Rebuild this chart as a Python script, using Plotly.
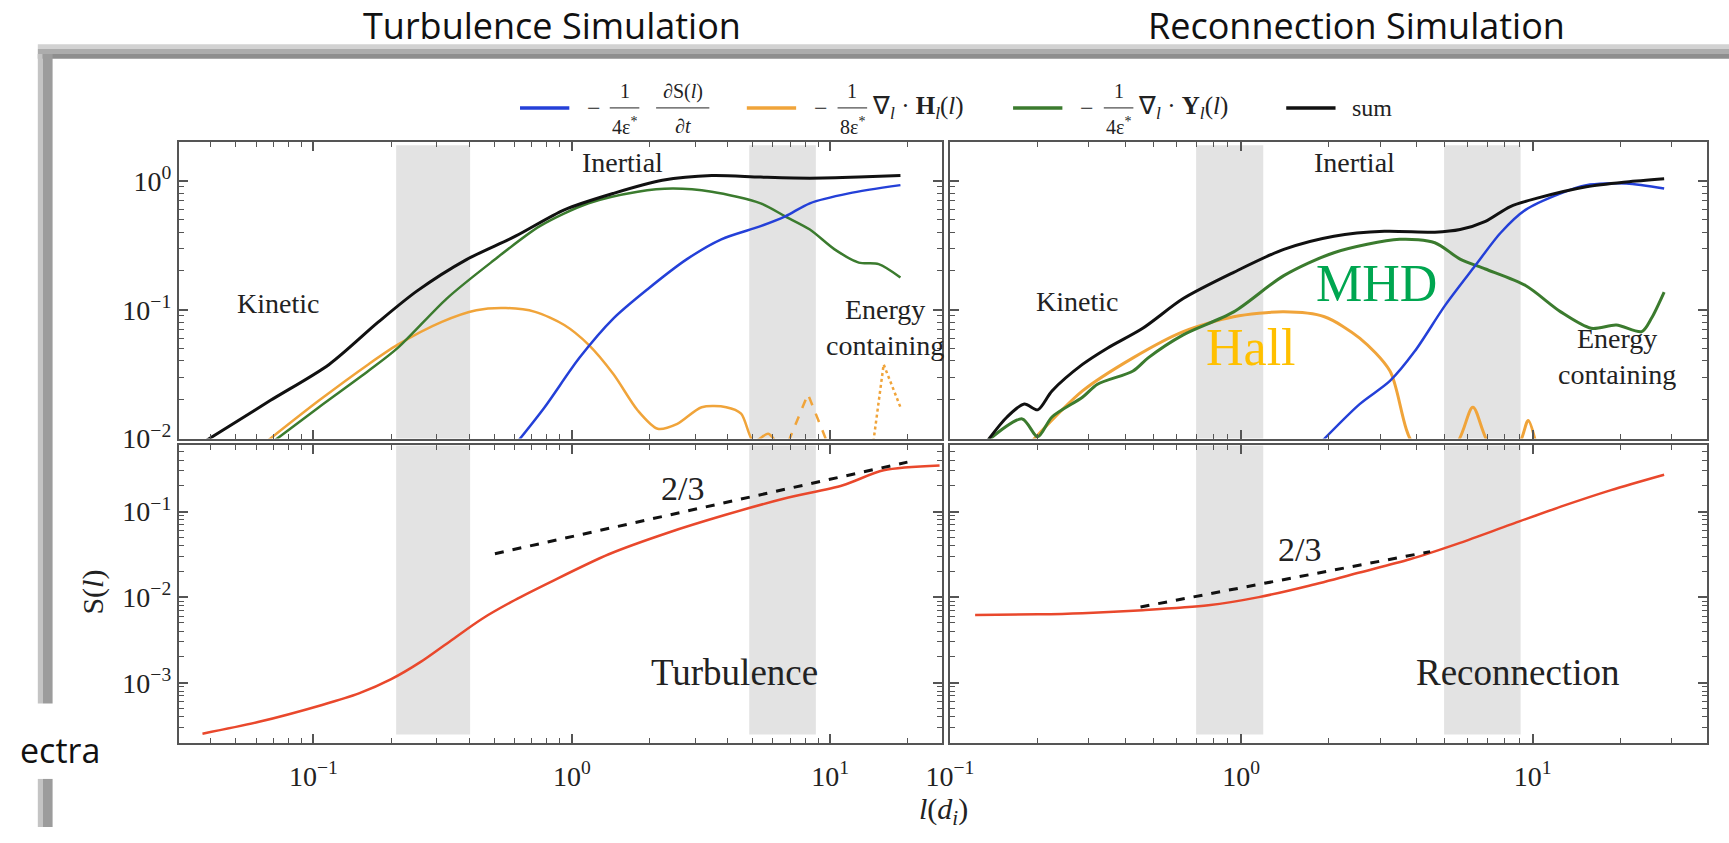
import math
import plotly.graph_objects as go

W, H = 1729, 843

# ---------------- data ----------------
# top-left: Turbulence simulation, energy-budget terms
tl_sum_x = [0.038, 0.068, 0.115, 0.178, 0.252, 0.391, 0.605, 0.935, 1.45, 2.24, 3.48, 5.38, 8.34, 12.9, 18.7]
tl_sum_y = [0.0095, 0.0197, 0.0376, 0.080, 0.140, 0.245, 0.372, 0.596, 0.80, 1.01, 1.10, 1.07, 1.05, 1.07, 1.10]
tl_mhd_x = [0.070, 0.105, 0.163, 0.212, 0.328, 0.486, 0.752, 1.16, 1.80, 2.45, 3.48, 5.38, 6.70, 8.34, 10.4, 12.9, 15.4, 18.7]
tl_mhd_y = [0.0095, 0.0175, 0.0334, 0.0505, 0.122, 0.232, 0.445, 0.670, 0.824, 0.873, 0.824, 0.670, 0.530, 0.419, 0.294, 0.232, 0.226, 0.178]
tl_hall_x = [0.066, 0.105, 0.163, 0.212, 0.314, 0.427, 0.555, 0.721, 0.935, 1.16, 1.45, 1.80, 2.15, 2.56, 3.18, 3.96, 4.52, 5.05, 5.75, 6.14]
tl_hall_y = [0.0095, 0.0197, 0.0376, 0.0535, 0.0805, 0.0991, 0.103, 0.0962, 0.0760, 0.0535, 0.0315, 0.0165, 0.0119, 0.0130, 0.0175, 0.0175, 0.0156, 0.0095, 0.0109, 0.0095]
tl_hall_neg_x = [6.9, 8.2, 9.7]
tl_hall_neg_y = [0.0095, 0.0221, 0.0095]
tl_hall_dot_x = [14.7, 16.1, 18.7]
tl_hall_dot_y = [0.0095, 0.0376, 0.0175]
tl_dsdt_x = [0.618, 0.785, 1.07, 1.45, 1.97, 2.79, 3.79, 5.38, 6.70, 8.34, 11.8, 18.7]
tl_dsdt_y = [0.0095, 0.0175, 0.0423, 0.0857, 0.145, 0.247, 0.352, 0.445, 0.530, 0.670, 0.80, 0.927]

# top-right: Reconnection simulation, energy-budget terms
tr_sum_x = [0.134, 0.157, 0.180, 0.200, 0.224, 0.285, 0.348, 0.459, 0.632, 0.942, 1.40, 2.08, 3.10, 4.62, 5.64, 6.89, 8.39, 10.3, 15.3, 21.0, 28.3]
tr_sum_y = [0.0095, 0.0147, 0.0185, 0.0167, 0.0234, 0.0376, 0.0505, 0.0718, 0.122, 0.195, 0.294, 0.372, 0.406, 0.400, 0.419, 0.485, 0.632, 0.731, 0.90, 0.982, 1.04]
tr_mhd_x = [0.134, 0.177, 0.200, 0.224, 0.285, 0.321, 0.425, 0.479, 0.632, 0.942, 1.40, 2.08, 3.50, 4.62, 5.64, 6.89, 9.46, 12.5, 15.9, 19.4, 23.7, 25.6, 28.3]
tr_mhd_y = [0.0095, 0.0142, 0.0103, 0.0147, 0.0209, 0.0264, 0.0334, 0.0423, 0.0638, 0.0962, 0.184, 0.277, 0.352, 0.331, 0.247, 0.207, 0.154, 0.0962, 0.0718, 0.0760, 0.0676, 0.0857, 0.137]
tr_hall_x = [0.191, 0.285, 0.425, 0.632, 0.942, 1.40, 1.93, 2.55, 3.24, 3.94, 5.42, 6.24, 7.16, 8.91, 9.66, 10.3]
tr_hall_y = [0.0095, 0.0234, 0.0423, 0.0676, 0.0881, 0.0962, 0.0881, 0.0601, 0.0334, 0.0089, 0.0089, 0.0175, 0.0089, 0.0089, 0.0138, 0.0089]
tr_dsdt_x = [1.89, 2.55, 3.24, 3.94, 5.01, 6.35, 7.76, 9.46, 12.5, 15.3, 21.0, 28.3]
tr_dsdt_y = [0.0095, 0.0185, 0.0280, 0.0475, 0.108, 0.219, 0.394, 0.596, 0.80, 0.927, 0.955, 0.873]

# bottom: structure function S(l)
bl_s_x = [0.0372, 0.0610, 0.108, 0.150, 0.200, 0.260, 0.340, 0.450, 0.60, 0.826, 1.39, 2.34, 3.94, 6.65, 11.2, 16.1, 26.5]
bl_s_y = [2.54e-4, 3.47e-4, 5.5e-4, 7.5e-4, 1.1e-3, 1.75e-3, 3.1e-3, 5.6e-3, 9.2e-3, 0.0150, 0.0317, 0.0562, 0.0916, 0.142, 0.203, 0.303, 0.345]
bl_ref_x = [0.504, 19.9]
bl_ref_y = [0.0322, 0.378]
br_s_x = [0.122, 0.20, 0.285, 0.459, 0.771, 1.15, 1.71, 2.55, 3.79, 5.64, 8.39, 12.5, 18.6, 28.3]
br_s_y = [6.2e-3, 6.3e-3, 6.5e-3, 7.03e-3, 8.02e-3, 0.0100, 0.0136, 0.0194, 0.0277, 0.0431, 0.0703, 0.114, 0.178, 0.269]
br_ref_x = [0.451, 4.45]
br_ref_y = [7.67e-3, 0.0340]

# shaded scale ranges
tl_bands = [(0.209, 0.404), (4.86, 8.8)]
tr_bands = [(0.70, 1.19), (4.97, 9.1)]

# ticks
x_ticks = [0.1, 1, 10]
x_tick_text = ["10<sup>−1</sup>", "10<sup>0</sup>", "10<sup>1</sup>"]
yt_ticks = [0.01, 0.1, 1]
yt_tick_text = ["10<sup>−2</sup>", "10<sup>−1</sup>", "10<sup>0</sup>"]
yb_ticks = [0.001, 0.01, 0.1]
yb_tick_text = ["10<sup>−3</sup>", "10<sup>−2</sup>", "10<sup>−1</sup>"]

# ---------------- styling ----------------
C_BLUE = "#2440d8"
C_ORANGE = "#f0a43a"
C_GREEN = "#3b7b2e"
C_BLACK = "#111111"
C_RED = "#e9482c"
BAND = "#e3e3e3"
AX = "#555555"
SERIF = "Liberation Serif, Times New Roman, serif"
SANS = "Open Sans, sans-serif"


def px(p):
    return p / W


def py(p):
    return 1 - p / H


def minor_vals(lo, hi):
    return [k * 10 ** e for e in range(lo, hi) for k in range(2, 10)]


fig = go.Figure()


def line(x, y, color, xa, ya, width=2.5, dash="solid", smooth=True):
    fig.add_trace(go.Scatter(x=x, y=y, mode="lines", xaxis=xa, yaxis=ya,
                             line=dict(color=color, width=width, dash=dash,
                                       shape="spline" if smooth else "linear",
                                       smoothing=0.8),
                             showlegend=False, hoverinfo="skip"))


# top-left
line(tl_hall_x, tl_hall_y, C_ORANGE, "x", "y")
line(tl_hall_neg_x, tl_hall_neg_y, C_ORANGE, "x", "y", dash="dash", smooth=False)
line(tl_hall_dot_x, tl_hall_dot_y, C_ORANGE, "x", "y", dash="dot", smooth=False)
line(tl_mhd_x, tl_mhd_y, C_GREEN, "x", "y")
line(tl_dsdt_x, tl_dsdt_y, C_BLUE, "x", "y")
line(tl_sum_x, tl_sum_y, C_BLACK, "x", "y", width=3)
# top-right
line(tr_hall_x, tr_hall_y, C_ORANGE, "x2", "y2", width=3)
line(tr_mhd_x, tr_mhd_y, C_GREEN, "x2", "y2", width=3)
line(tr_dsdt_x, tr_dsdt_y, C_BLUE, "x2", "y2")
line(tr_sum_x, tr_sum_y, C_BLACK, "x2", "y2", width=3)
# bottom
line(bl_s_x, bl_s_y, C_RED, "x3", "y3")
line(bl_ref_x, bl_ref_y, C_BLACK, "x3", "y3", width=3, dash="dash", smooth=False)
line(br_s_x, br_s_y, C_RED, "x4", "y4")
line(br_ref_x, br_ref_y, C_BLACK, "x4", "y4", width=3, dash="dash", smooth=False)

XL_DOM = [px(157), px(931)]
XR_DOM = [px(939), px(1707)]
YT_DOM = [py(447), py(145)]
YB_DOM = [py(757), py(454)]
XL_RNG = [-1.521, 1.433]
XR_RNG = [-1.0, 1.6]
YT_RNG = [-2.0, 0.3]
YB_RNG = [-3.70, -0.227]


def axis(dom, rng, tv, tt, labels, mv, anchor, standoff=0):
    return dict(type="log", domain=dom, range=rng, anchor=anchor,
                showgrid=False, zeroline=False, showline=True, linecolor=AX,
                linewidth=2, mirror="allticks", ticks="inside", ticklen=9,
                tickwidth=1.5, tickcolor=AX, tickmode="array", tickvals=tv,
                ticktext=tt, showticklabels=labels, ticklabelstandoff=standoff,
                tickfont=dict(family=SERIF, size=28, color="#222"),
                minor=dict(tickmode="array", tickvals=mv, ticks="inside",
                           ticklen=5, tickwidth=1, tickcolor=AX, showgrid=False))


mx = minor_vals(-2, 2)
fig.update_layout(
    xaxis=axis(XL_DOM, XL_RNG, x_ticks, x_tick_text, False, mx, "y"),
    yaxis=axis(YT_DOM, YT_RNG, yt_ticks, yt_tick_text, True, minor_vals(-2, 1), "x"),
    xaxis2=axis(XR_DOM, XR_RNG, x_ticks, x_tick_text, False, mx, "y2"),
    yaxis2=axis(YT_DOM, YT_RNG, yt_ticks, yt_tick_text, False, minor_vals(-2, 1), "x2"),
    xaxis3=axis(XL_DOM, XL_RNG, x_ticks, x_tick_text, True, mx, "y3", standoff=8),
    yaxis3=axis(YB_DOM, YB_RNG, yb_ticks, yb_tick_text, True, minor_vals(-4, 0), "x3"),
    xaxis4=axis(XR_DOM, XR_RNG, x_ticks, x_tick_text, True, mx, "y4", standoff=8),
    yaxis4=axis(YB_DOM, YB_RNG, yb_ticks, yb_tick_text, False, minor_vals(-4, 0), "x4"),
)

shapes = []
for (a, b) in tl_bands:
    shapes.append(dict(type="rect", xref="x", yref="y domain", x0=a, x1=b, y0=0, y1=0.99,
                       fillcolor=BAND, line=dict(width=0), layer="below"))
    shapes.append(dict(type="rect", xref="x3", yref="y3 domain", x0=a, x1=b, y0=0.027, y1=1,
                       fillcolor=BAND, line=dict(width=0), layer="below"))
for (a, b) in tr_bands:
    shapes.append(dict(type="rect", xref="x2", yref="y2 domain", x0=a, x1=b, y0=0, y1=0.99,
                       fillcolor=BAND, line=dict(width=0), layer="below"))
    shapes.append(dict(type="rect", xref="x4", yref="y4 domain", x0=a, x1=b, y0=0.027, y1=1,
                       fillcolor=BAND, line=dict(width=0), layer="below"))


def prect(x0, x1, y0, y1, color):
    shapes.append(dict(type="rect", xref="paper", yref="paper", x0=px(x0), x1=px(x1),
                       y0=py(y1), y1=py(y0), fillcolor=color, line=dict(width=0), layer="above"))


def pline(x0, x1, y, color, width):
    shapes.append(dict(type="line", xref="paper", yref="paper", x0=px(x0), x1=px(x1),
                       y0=py(y), y1=py(y), line=dict(color=color, width=width), layer="above"))


# slide frame (shadowed border of the pasted figure)
prect(14, W, 45, 50, "#d2d2d2")
prect(14, W, 50, 55, "#acacac")
prect(14, W, 55, 60, "#8e8e8e")
prect(14, 19, 55, 717, "#c4c4c4")
prect(19, 29, 55, 717, "#9c9c9c")
prect(14, 19, 794, H, "#c4c4c4")
prect(19, 29, 794, H, "#9c9c9c")

annotations = []


def ann(x, y, text, size, family=SERIF, color="#222", xanchor="center", yanchor="middle",
        xref="paper", yref="paper", angle=0):
    annotations.append(dict(x=x, y=y, text=text, showarrow=False, xref=xref, yref=yref,
                            xanchor=xanchor, yanchor=yanchor, textangle=angle,
                            font=dict(family=family, size=size, color=color)))


def pann(x, y, text, size, **kw):
    ann(px(x), py(y), text, size, **kw)


def dann(xa, ya, x, y, text, size, **kw):
    ann(math.log10(x), math.log10(y), text, size, xref=xa, yref=ya, **kw)


# slide titles
pann(535, 26, "Turbulence Simulation", 36, family=SANS, color="#111")
pann(1351, 26, "Reconnection Simulation", 36, family=SANS, color="#111")
pann(-6, 765, "ectra", 34, family=SANS, color="#111", xanchor="left")

# legend (drawn by hand)
LY = 110
for (x0, x1, c) in [(503, 553, C_BLUE), (733, 783, C_ORANGE), (1003, 1053, C_GREEN), (1280, 1330, C_BLACK)]:
    pline(x0, x1, LY, c, 3.5)


def frac(xc, half, num, den):
    pann(xc, LY - 17, num, 20)
    pline(xc - half, xc + half, LY, "#222", 1)
    pann(xc, LY + 18, den, 20)


pann(578, LY, "−", 24)
frac(609, 15, "1", "4ε<sup>*</sup>")
frac(668, 27, "∂S(<i>l</i>)", "∂<i>t</i>")
pann(808, LY, "−", 24)
frac(840, 15, "1", "8ε<sup>*</sup>")
pann(858, LY, "∇<sub><i>l</i></sub> · <b>H</b><sub><i>l</i></sub>(<i>l</i>)", 25, xanchor="left")
pann(1078, LY, "−", 24)
frac(1110, 15, "1", "4ε<sup>*</sup>")
pann(1128, LY, "∇<sub><i>l</i></sub> · <b>Y</b><sub><i>l</i></sub>(<i>l</i>)", 25, xanchor="left")
pann(1345, LY, "sum", 24, xanchor="left")

# region labels
dann("x", "y", 1.57, 1.40, "Inertial", 28)
dann("x", "y", 0.0726, 0.111, "Kinetic", 28)
dann("x", "y", 9.5, 0.0734, "Energy<br>containing", 28, xanchor="left")
dann("x2", "y2", 2.44, 1.40, "Inertial", 28)
dann("x2", "y2", 0.274, 0.115, "Kinetic", 28)
dann("x2", "y2", 12.0, 0.0432, "Energy<br>containing", 28, xanchor="left")
dann("x2", "y2", 2.92, 0.159, "MHD", 52, color="#00a650")
dann("x2", "y2", 1.08, 0.0509, "Hall", 52, color="#ffc000")
dann("x3", "y3", 2.67, 0.186, "2/3", 34)
dann("x3", "y3", 4.27, 1.31e-3, "Turbulence", 37)
dann("x4", "y4", 1.58, 0.0361, "2/3", 34)
dann("x4", "y4", 8.91, 1.31e-3, "Reconnection", 37)

# axis titles
pann(70, 604, "S(<i>l</i>)", 30, angle=-90)
pann(932, 827, "<i>l</i>(<i>d<sub>i</sub></i>)", 30)

fig.update_layout(
    width=W, height=H, margin=dict(l=0, r=0, t=0, b=0),
    paper_bgcolor="white", plot_bgcolor="white",
    showlegend=False, shapes=shapes, annotations=annotations,
)

fig.write_html("out.html")
